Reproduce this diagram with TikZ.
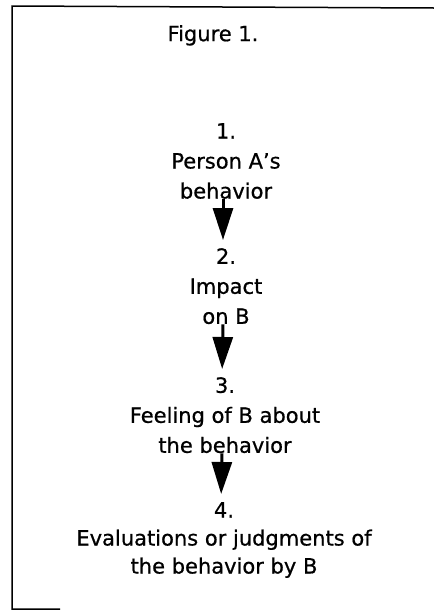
\documentclass[tikz,border=0pt]{standalone}
\usepackage{fontspec}
\setmainfont{DejaVu Sans}[FakeBold=0.7]
\usepackage{tikz}
\usetikzlibrary{positioning,arrows.meta}

\tikzset{
    stepnode/.style={align=center, inner sep=0pt, anchor=north,
        font=\fontsize{21}{30}\selectfont},
    flowarrow/.style={line width=3pt,
        -{Triangle[length=32pt,width=20pt]}, shorten >=8pt}
}

\begin{document}
\begin{tikzpicture}[x=1pt,y=-1pt]
    \useasboundingbox (0,0) rectangle (434,611);
    % Frame (cut off at the right)
    \draw[line width=1.5pt] (434,8) -- (12,6) -- (12,609) -- (60,609);

    \node[stepnode] (title) at (213,25) {Figure 1.};

    % Steps
    \node[stepnode] (behav) at (226,123) {1.\\Person A’s\\behavior};
    \node[stepnode] (impact) at (226,248) {2.\\Impact\\on B};
    \node[stepnode] (feeling) at (225,377) {3.\\Feeling of B about\\the behavior};
    \node[stepnode, font=\fontsize{21}{28}\selectfont] (evalu) at (224,502)
        {4.\\Evaluations or judgments of\\the behavior by B};

    % Arrows between the steps
    \foreach \a/\b in {behav/impact, impact/feeling, feeling/evalu} {
        \draw[flowarrow] ([xshift=-3pt]\a.south) -- ([xshift=-3pt]\b.north);
    }
\end{tikzpicture}
\end{document}
